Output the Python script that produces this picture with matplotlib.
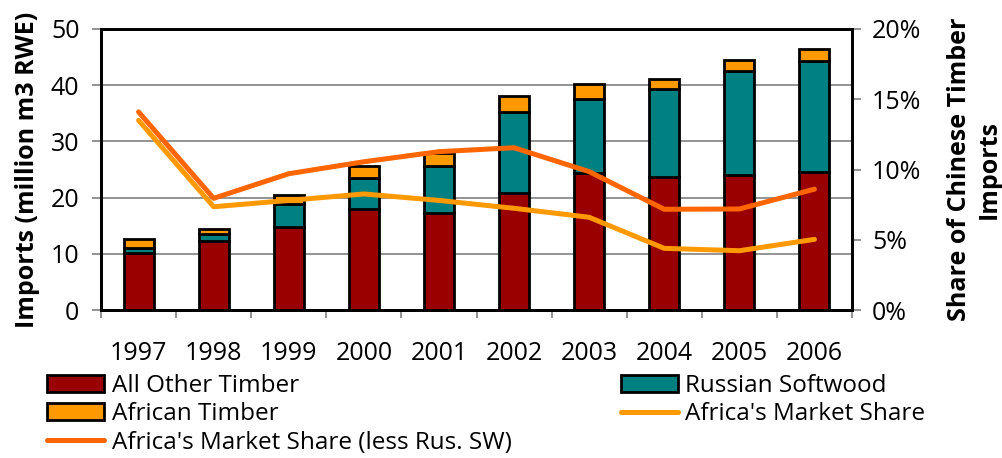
import matplotlib.pyplot as plt
import numpy as np
from matplotlib.ticker import FuncFormatter

plt.rcParams['font.family'] = ['Open Sans', 'DejaVu Sans']

years = ['1997', '1998', '1999', '2000', '2001', '2002', '2003', '2004', '2005', '2006']
other = [10.2, 12.3, 14.8, 17.9, 17.2, 20.8, 24.4, 23.7, 24.1, 24.6]
russian = [0.8, 1.2, 4.1, 5.6, 8.5, 14.5, 13.1, 15.6, 18.5, 19.7]
african = [1.6, 1.0, 1.6, 2.2, 2.3, 2.7, 2.7, 1.8, 1.9, 2.2]
share = [13.5, 7.35, 7.8, 8.26, 7.8, 7.24, 6.6, 4.39, 4.22, 5.03]
share_less = [14.1, 7.95, 9.7, 10.55, 11.27, 11.55, 9.85, 7.17, 7.19, 8.6]

fig = plt.figure(figsize=(10.02, 4.58), dpi=100)
ax = fig.add_axes([0.1008, 0.3231, 0.7495, 0.6136])
x = np.arange(len(years))

b1 = ax.bar(x, other, 0.4, color='#990000', edgecolor='black', linewidth=2, zorder=2, label='All Other Timber')
b2 = ax.bar(x, russian, 0.4, bottom=other, color='#008080', edgecolor='black', linewidth=2, zorder=2, label='Russian Softwood')
bot = np.array(other) + np.array(russian)
b3 = ax.bar(x, african, 0.4, bottom=bot, color='#FF9900', edgecolor='black', linewidth=2, zorder=2, label='African Timber')

ax.set_xlim(-0.5, 9.5)
ax.set_ylim(0, 50)
ax.set_yticks([0, 10, 20, 30, 40, 50])
ax.yaxis.grid(True, color='#808080', linewidth=1.2, zorder=0)
ax.set_axisbelow(True)
ax.set_xticks(x)
ax.set_xticklabels(years)
ax.set_xticks(np.arange(-0.5, 10, 1), minor=True)
ax.tick_params(axis='x', which='major', length=0, labelsize=18, pad=22)
ax.tick_params(axis='x', which='minor', length=6, width=1.2, color='#808080')
ax.tick_params(axis='y', labelsize=18, length=6.5, width=1.2, color='#808080', pad=9)
for s in ax.spines.values():
    s.set_linewidth(2)
ax.set_ylabel('Imports (million m3 RWE)', fontsize=18, fontweight='bold', labelpad=8)

ax2 = ax.twinx()
l1, = ax2.plot(x, share, color='#FF9900', linewidth=3.6, solid_capstyle='round', label="Africa's Market Share", zorder=3)
l2, = ax2.plot(x, share_less, color='#FF6600', linewidth=3.6, solid_capstyle='round', label="Africa's Market Share (less Rus. SW)", zorder=3)
ax2.set_ylim(0, 20)
ax2.set_yticks([0, 5, 10, 15, 20])
ax2.yaxis.set_major_formatter(FuncFormatter(lambda v, p: '%d%%' % v))
ax2.tick_params(axis='y', labelsize=18, length=6.5, width=1.2, color='#808080', pad=8)
for s in ax2.spines.values():
    s.set_linewidth(2)
ax2.set_ylabel('Share of Chinese Timber\nImports', fontsize=18, fontweight='bold', labelpad=18, linespacing=1.3)

handles = [b1, b3, l2, b2, l1]
labels = [h.get_label() for h in handles]
fig.legend(handles, labels, ncol=2, loc='upper left', bbox_to_anchor=(0.047, 0.184),
           frameon=False, fontsize=17.5, handlelength=2.35, handleheight=0.7,
           handletextpad=0.3, labelspacing=0.19, columnspacing=4.5,
           borderaxespad=0, borderpad=0)

fig.savefig('out.png', dpi=100)
